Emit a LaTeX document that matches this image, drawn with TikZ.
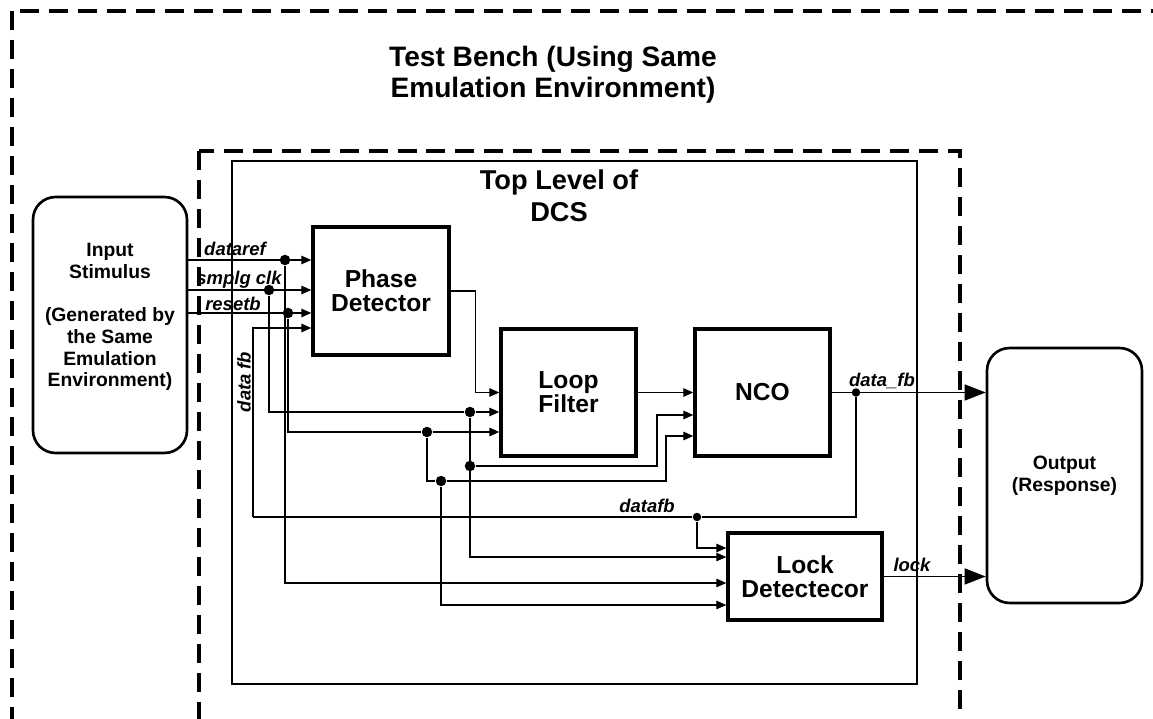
\documentclass[tikz,border=0pt]{standalone}
\usepackage{fontspec}
\setmainfont{Liberation Sans}
\usetikzlibrary{arrows.meta,positioning,calc}
\tikzset{
  blk/.style={draw, line width=1.9pt, minimum width=2.7cm, minimum height=2.54cm, inner sep=2pt, align=center, font=\fontsize{14}{13.5}\selectfont\bfseries},
  rblk/.style={draw, line width=1.5pt, rounded corners=0.45cm, minimum width=3.08cm, inner sep=2pt, align=center, font=\fontsize{11}{12.4}\selectfont\bfseries},
  wire/.style={line width=0.7pt},
  arr/.style={wire, -{Triangle[length=0.2cm,width=0.17cm]}},
  bigarr/.style={wire, -{Triangle[length=0.42cm,width=0.32cm]}},
  dotn/.style={circle, fill, inner sep=0pt, minimum size=0.21cm},
  sig/.style={font=\fontsize{10.5}{12}\selectfont\bfseries\itshape, inner sep=0pt},
  dashbox/.style={line width=1.8pt, dash pattern=on 0.38cm off 0.2cm},
  ttl/.style={align=center, font=\fontsize{16}{17.5}\selectfont\bfseries},
}

\begin{document}
\begin{tikzpicture}[x=0.02cm, y=-0.02cm]
  \useasboundingbox (0,0) rectangle (1153,719);
  \clip (0,0) rectangle (1153,719);
  % frames
  \draw[dashbox] (12,11) rectangle (1190,760);
  \draw[dashbox] (199,151) rectangle (960,760);
  \draw[line width=1.6pt] (232,161) rectangle (917,684);
  \node[ttl] (tb) at (553,75) {Test Bench (Using Same\\Emulation Environment)};
  \node[ttl, font=\fontsize{15.5}{18}\selectfont\bfseries] (tl) at (559,196) {Top Level of\\DCS};

  % blocks
  \node[rblk, minimum height=5.12cm] (instim) at (110,325) {Input\\Stimulus\\[12.4pt](Generated by\\the Same\\Emulation\\Environment)\\[-1pt]};
  \node[rblk, minimum width=3.1cm, minimum height=5.1cm] (output) at (1064.5,475.5) {Output\\(Response)};
  \node[blk, minimum width=2.72cm, minimum height=2.56cm] (pd) at (381,291) {Phase\\Detector};
  \node[blk] (lf) at (568.5,392.5) {Loop\\Filter};
  \node[blk] (nco) at (762.5,392.5) {NCO};
  \node[blk, minimum width=3.08cm, minimum height=1.74cm] (lock) at (805,576.5) {Lock\\Detectecor};

  % junctions
  \node[dotn] (jref) at (285,260) {};
  \node[dotn] (jclk) at (269,290) {};
  \node[dotn] (jrst) at (288,313) {};
  \node[dotn] (jclk2) at (470,412) {};
  \node[dotn] (jclk3) at (470,466) {};
  \node[dotn] (jrst2) at (427,432) {};
  \node[dotn] (jrst3) at (441,481) {};
  \node[dotn, minimum size=0.17cm] (jfb) at (856,392.5) {};
  \node[dotn, minimum size=0.17cm] (jfb2) at (697,517) {};
  \coordinate (fbl) at (253,517);

  % wires
  \draw[arr] (instim.east |- jref) -- (pd.west |- jref);
  \draw[arr] (instim.east |- jclk) -- (pd.west |- jclk);
  \draw[arr] (instim.east |- jrst) -- (pd.west |- jrst);
  \draw[arr] (pd.east) -- ++(25,0) |- (lf.west);
  \draw[arr] (lf.east) -- (nco.west);
  \draw[bigarr] (nco.east) -- (output.west |- nco.east);
  \draw[bigarr] (lock.east) -- (output.west |- lock.east);
  \draw[arr] (jclk) |- (jclk2) -- (lf.west |- jclk2);
  \draw[arr] (jclk2) |- (lock.west |- 0,557);
  \draw[arr] (jclk3) -- ++(187,0) |- (nco.west |- 0,415);
  \draw[arr] (jrst) |- (jrst2) -- (lf.west |- jrst2);
  \draw[wire] (jrst2) |- (jrst3);
  \draw[arr] (jrst3) -- ++(225,0) |- (nco.west |- 0,436);
  \draw[arr] (jrst3) |- (lock.west |- 0,605);
  \draw[arr] (jref) |- (lock.west |- 0,583);
  \draw[wire] (jfb) |- (jfb2) -- (fbl);
  \draw[arr] (fbl) |- (pd.west |- 0,328);
  \draw[arr] (jfb2) |- (lock.west |- 0,548);

  % signal names
  \node[sig] (lref) at (235,249) {dataref};
  \node[sig] (lclk) at (239,280) {smplg clk};
  \node[sig] (lrst) at (233,304) {resetb};
  \node[sig, rotate=90] (lfb) at (244,382) {data fb};
  \node[sig] (lfb2) at (647,506) {datafb};
  \node[sig] (lnco) at (882,381) {data\_fb};
  \node[sig] (llock) at (912,565) {lock};
\end{tikzpicture}
\end{document}
